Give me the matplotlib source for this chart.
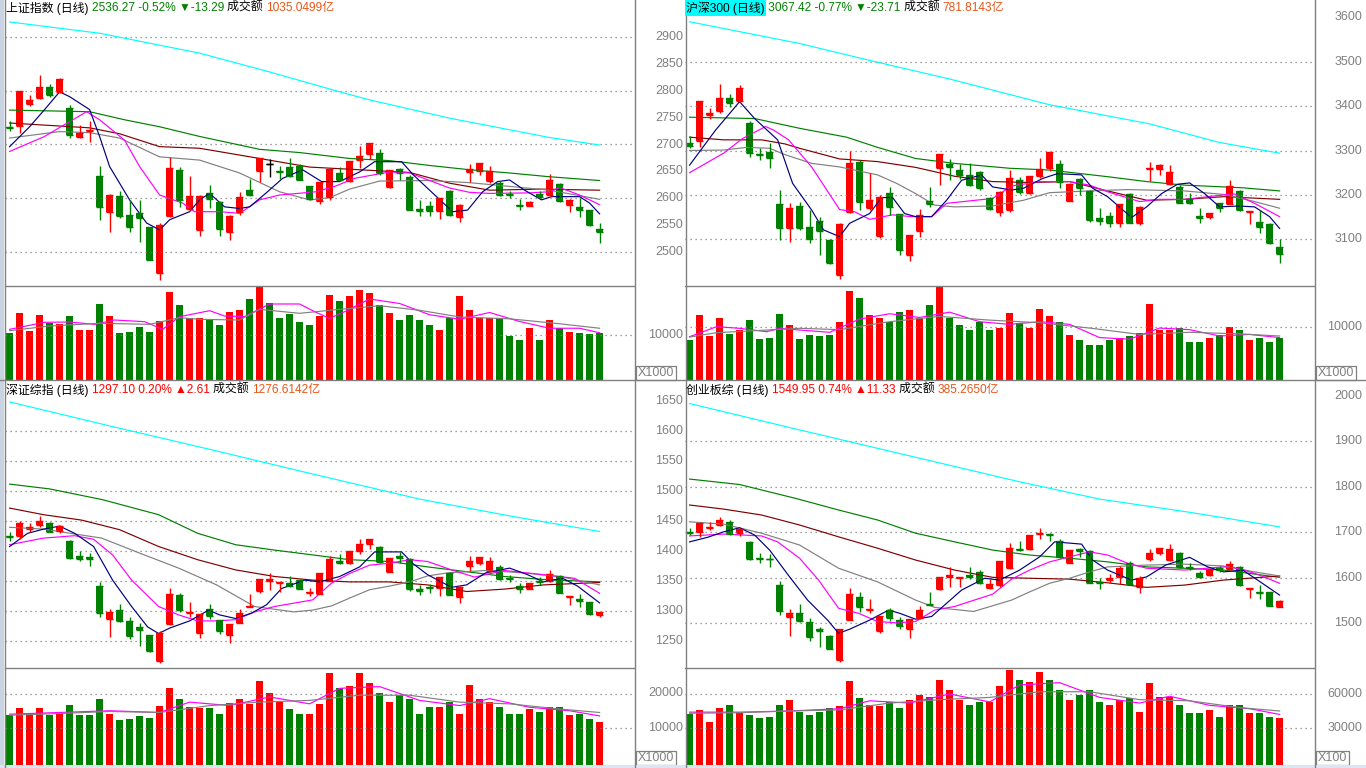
import matplotlib
matplotlib.use('Agg')
import matplotlib.pyplot as plt
from matplotlib.lines import Line2D
from matplotlib.patches import Rectangle

W, H = 1366, 768
FAM = ['Liberation Sans', 'Noto Sans CJK SC', 'DejaVu Sans']
RED, GRN, ORG, GRAY = '#FF0000', '#008000', '#E8561A', '#808080'

# ---------------- 上证指数 ----------------
sh_open = [2732, 2734.2, 2775.8, 2785.7, 2806.2, 2796.9, 2768.3, 2713.1, 2724.2, 2642.3,
           2573.9, 2605.0, 2568.4, 2573.3, 2546.0, 2460.3, 2566.5, 2652.8, 2580.8, 2541.7,
           2610.0, 2593.8, 2537.9, 2573.9, 2616.2, 2650.3, 2664.0, 2650.0, 2658.4, 2660.9,
           2622.4, 2594.4, 2602.5, 2647.2, 2631.7, 2670.8, 2681.4, 2684.5, 2620.5, 2654.7,
           2639.8, 2580.8, 2586.4, 2575.8, 2614.3, 2564.6, 2648.5, 2651.6, 2631.7, 2628.6,
           2608.1, 2588.2, 2586.4, 2608.7, 2606.9, 2626.7, 2587.0, 2583.3, 2578.9, 2543.5]
sh_close = [2731, 2799.4, 2782.6, 2807.5, 2791.9, 2821.1, 2717.4, 2720.5, 2726.7, 2583.3,
            2606.9, 2567.7, 2546.0, 2562.8, 2485.8, 2551.0, 2655.9, 2596.9, 2603.8, 2603.8,
            2598.8, 2542.9, 2567.7, 2602.5, 2606.9, 2675.2, 2664.0, 2649.0, 2641.0, 2634.8,
            2598.8, 2629.8, 2654.7, 2633.6, 2669.0, 2679.5, 2703.1, 2647.2, 2652.2, 2647.2,
            2578.9, 2575.8, 2575.8, 2600.6, 2568.4, 2588.2, 2654.7, 2665.9, 2650.3, 2606.9,
            2605.6, 2585.1, 2593.2, 2601.9, 2634.8, 2594.4, 2597.5, 2577.7, 2549.6, 2536.3]
sh_high = [2743, 2799.5, 2791.3, 2829.2, 2811.8, 2823.6, 2773.3, 2735.4, 2743.5, 2660.9,
           2607.5, 2613.1, 2597.5, 2597.5, 2546.5, 2554.1, 2676.4, 2658.4, 2641.0, 2606.9,
           2625.5, 2594.0, 2568.0, 2611.8, 2636.7, 2675.5, 2673.3, 2659.7, 2675.2, 2662.8,
           2623.6, 2630.0, 2655.0, 2658.4, 2669.0, 2696.9, 2703.3, 2692.0, 2652.5, 2656.5,
           2642.9, 2596.3, 2594.4, 2601.0, 2616.2, 2590.1, 2664.6, 2666.0, 2659.7, 2631.7,
           2613.1, 2598.8, 2594.4, 2613.1, 2646.0, 2628.6, 2598.8, 2600.6, 2579.0, 2554.1]
sh_low = [2725, 2721.7, 2771.4, 2783.9, 2788.8, 2796.3, 2711.8, 2711.8, 2704.4, 2560.3,
          2536.7, 2563.4, 2536.7, 2518.1, 2485.0, 2448.5, 2566.0, 2583.9, 2577.7, 2530.5,
          2582.0, 2529.2, 2521.8, 2568.4, 2603.8, 2629.8, 2639.8, 2636.0, 2639.2, 2633.6,
          2597.5, 2590.1, 2597.5, 2631.7, 2629.8, 2656.5, 2673.3, 2644.1, 2619.3, 2634.8,
          2577.7, 2566.5, 2566.5, 2562.2, 2567.7, 2555.3, 2629.8, 2644.1, 2628.6, 2603.8,
          2600.6, 2577.7, 2585.1, 2600.6, 2605.0, 2592.6, 2573.9, 2564.6, 2547.8, 2516.8]
sh_vol = [10510, 14960, 10960, 14520, 12590, 12520, 14300, 11110, 11110, 16960,
          14300, 10510, 10670, 11780, 10740, 13110, 19630, 16740, 13850, 13780,
          13260, 12220, 15110, 15560, 18000, 20740, 17040, 13780, 14740, 12890,
          12300, 14300, 18890, 17630, 18670, 20000, 19330, 16670, 14890, 13330,
          14440, 13330, 12220, 11110, 13780, 18670, 15560, 13780, 13780, 13780,
          9780, 8890, 11560, 8890, 13330, 11560, 10670, 10440, 10220, 10440]
sh_ma5 = [(0, 2696), (2, 2733), (3.5, 2765), (5, 2798), (6, 2789), (8, 2765), (9, 2715), (10, 2659),
          (12, 2597), (13.7, 2554), (15, 2541), (16, 2560), (18, 2575), (19, 2597), (20, 2609),
          (21.5, 2584), (23, 2581), (24, 2584), (25.6, 2609), (27.3, 2637), (29.3, 2653), (31.2, 2631),
          (33, 2631), (35, 2649), (36.5, 2668), (39.2, 2668), (40.4, 2643), (42, 2615), (44.3, 2575),
          (45.8, 2578), (47.3, 2612), (48.8, 2631), (50, 2634), (51.5, 2615), (53.2, 2597),
          (54.2, 2603), (57, 2603), (58, 2591), (59, 2571)]
sh_ma10 = [(0, 2687), (3.5, 2715), (5.4, 2736), (7.7, 2761), (9, 2746), (11.5, 2708), (13, 2659),
           (15, 2606), (17.3, 2591), (18.5, 2575), (21, 2575), (23, 2572), (25, 2597), (27, 2606),
           (30.6, 2612), (32.5, 2622), (34.5, 2637), (38, 2649), (40, 2647), (42, 2633), (44, 2619),
           (46, 2611), (48, 2609), (52, 2610), (54, 2612), (55, 2620), (57, 2606), (59, 2588)]
sh_ma20 = [(0, 2712), (5, 2724), (8, 2722), (11, 2712), (15, 2677), (19, 2671), (23, 2647), (27, 2612),
           (30, 2597), (32, 2601), (34, 2617), (37, 2632), (42, 2633), (46, 2629), (50, 2622),
           (54, 2615), (59, 2598)]
sh_ma30 = [(0, 2740), (8, 2731), (11, 2720), (15, 2696), (19, 2693), (25, 2674), (30, 2658), (37, 2651),
           (40, 2648), (44, 2628), (48, 2615), (53, 2617), (59, 2615)]
sh_ma60 = [(0, 2764), (8, 2761), (11.5, 2746), (15, 2733), (19, 2715), (25, 2691), (29, 2685), (34, 2674),
           (38, 2670), (42, 2661), (46, 2653), (50, 2647), (54, 2640), (59, 2633)]
sh_ma250 = [(0, 2928), (9, 2907), (19, 2870), (26, 2835), (33, 2798), (36, 2783), (44, 2749),
            (54, 2713), (59, 2699)]
sh_vma5 = [(0, 11260), (3.5, 12820), (6, 12890), (8.5, 12370), (10.5, 13330), (13.5, 12960),
           (15.3, 11260), (17, 14070), (20, 15400), (21.5, 14220), (23.5, 14070), (26, 16890),
           (29, 16890), (30.5, 15180), (32, 13700), (33.5, 15180), (36, 18000), (39, 17000),
           (42, 14500), (45, 13500), (48, 15000), (51, 13000), (54, 11500), (57, 11500), (59, 10500)]
sh_vma10 = [(0, 10960), (4, 12000), (9, 12600), (14, 12370), (17, 13850), (19, 13480), (23, 13330),
            (25, 15700), (29, 14820), (33, 15700), (37, 16500), (41, 15500), (45, 14000),
            (50, 13600), (55, 12500), (59, 11500)]
sh_title = [('上证指数 (日线) ', 'black', None), ('2536.27 -0.52% ', GRN, None),
            ('▼-13.29 ', GRN, None), ('成交额 ', 'black', None), ('1035.0499亿', ORG, None)]
sh_ticks = [2500, 2550, 2600, 2650, 2700, 2750, 2800, 2850, 2900]
sh_grid = [2500, 2600, 2700, 2800, 2900]

# ---------------- 沪深300 ----------------
hs_open = [3317.5, 3322, 3379.1, 3388.9, 3418.9, 3412.1, 3362.6, 3291.2, 3295.7, 3179.3,
           3124.5, 3174.8, 3128.3, 3141, 3098.2, 3019.4, 3160.5, 3274.7, 3171.1, 3108,
           3204.9, 3156.8, 3064.4, 3117.7, 3186.1, 3259.7, 3269.4, 3256, 3244.7, 3252.2,
           3192.1, 3162.1, 3165.8, 3233.4, 3203.4, 3243.2, 3261.2, 3268.7, 3186.8, 3234.9,
           3208.6, 3148.5, 3153, 3137.3, 3201.9, 3137.3, 3258.9, 3257.4, 3224.4, 3218.4,
           3190.6, 3153, 3149.3, 3180.8, 3179.3, 3208.6, 3160.5, 3138, 3134.3, 3081.7]
hs_close = [3310, 3411.4, 3383.6, 3418.9, 3406.1, 3439.9, 3293.5, 3289.7, 3283.7, 3124.5,
            3169.6, 3126, 3100.5, 3119.2, 3045.6, 3134.3, 3272.4, 3184.6, 3188.3, 3195.8,
            3173.3, 3075.7, 3109.5, 3154.5, 3178.6, 3292, 3263.4, 3244.7, 3222.2, 3214.6,
            3168, 3205.6, 3238.7, 3207.1, 3242.4, 3258.2, 3297.2, 3229.7, 3224.4, 3216.1,
            3143.3, 3141.8, 3137.3, 3179.3, 3137.3, 3173.3, 3261.2, 3267.2, 3250.7, 3182.3,
            3182.3, 3147, 3159.8, 3169.6, 3219.9, 3165.8, 3163.6, 3128.3, 3091.1, 3067.4]
hs_high = [3332.5, 3411.5, 3396.4, 3449.7, 3426.4, 3447.4, 3366.3, 3304.7, 3317.5, 3210.9,
           3182.3, 3184.6, 3165.8, 3150.8, 3099.7, 3135.8, 3298.7, 3278.5, 3248.4, 3199.6,
           3218.4, 3157, 3110, 3167.3, 3218.4, 3292.2, 3280, 3269.4, 3271, 3253.7,
           3194.3, 3208.6, 3255.9, 3240.9, 3243, 3282.2, 3297.5, 3278.5, 3227.4, 3237.2,
           3210.9, 3169.6, 3162.1, 3179.5, 3204.9, 3175.6, 3274.7, 3269.4, 3267.2, 3222,
           3204.9, 3169.6, 3160, 3182.3, 3233.4, 3210.9, 3164, 3165.8, 3135.8, 3099.7]
hs_low = [3304.7, 3307, 3370, 3385, 3398.6, 3410, 3286, 3278.5, 3259.7, 3098.2,
          3094.5, 3120.7, 3090.7, 3064.4, 3044.1, 3009.6, 3158.3, 3165.8, 3165.8, 3102,
          3154.5, 3064.4, 3051.6, 3105.7, 3173.3, 3222, 3233.4, 3234.9, 3220, 3210.9,
          3165.8, 3152.3, 3162.1, 3201.1, 3201.9, 3237.2, 3253.7, 3214.6, 3186.5, 3199.6,
          3139.5, 3132, 3126.7, 3126.7, 3135.8, 3132, 3231.9, 3244.7, 3222, 3180.8,
          3178.6, 3135.8, 3144.8, 3162.1, 3179, 3164.3, 3134.3, 3114.7, 3088.5, 3045.6]
hs_vol = [7550, 12260, 8360, 11640, 8680, 9430, 11320, 7740, 7870, 12450,
          10380, 7740, 8490, 8300, 8490, 10940, 16790, 15470, 12260, 11700,
          10940, 12830, 13210, 11700, 14150, 17550, 11700, 10380, 9430, 10940,
          9430, 9810, 12640, 10750, 9810, 13400, 12080, 10940, 8490, 7550,
          6600, 6600, 7550, 7930, 8300, 8870, 14340, 9430, 9430, 9810,
          7170, 7170, 7930, 8490, 10000, 9430, 7550, 7930, 7170, 7930]
hs_ma5 = [(0, 3267), (2.6, 3346), (5, 3410), (6.5, 3372), (8.8, 3324), (10.3, 3226), (12.2, 3166),
          (13.4, 3121), (15, 3106), (16, 3136), (18, 3158), (19.2, 3194), (20.3, 3194), (21.5, 3158),
          (22.6, 3151), (24.2, 3151), (25.7, 3188), (27.2, 3233), (29.2, 3245), (30.3, 3218),
          (32.2, 3211), (33.4, 3215), (35.3, 3237), (36.8, 3248), (39.2, 3245), (40.3, 3215),
          (41.8, 3196), (44.2, 3149), (45.7, 3173), (47.2, 3203), (48.8, 3224), (50, 3227),
          (51.5, 3203), (53, 3173), (54.9, 3175), (56.5, 3173), (58, 3151), (59, 3124.5)]
hs_ma10 = [(0, 3250), (3.4, 3294), (5.3, 3327), (7.6, 3354), (8.4, 3346), (9.9, 3324), (12.2, 3263),
           (15, 3167), (16.5, 3162), (18, 3145), (20.3, 3155), (22.2, 3151), (24.2, 3151), (25.7, 3181),
           (30.3, 3192), (32.2, 3220), (35, 3230), (38, 3230), (40, 3222), (41.8, 3207), (45, 3185),
           (47, 3190), (49.5, 3190), (53.4, 3200), (54.5, 3202), (56.5, 3181), (59, 3151)]
hs_ma20 = [(0, 3300), (3.4, 3301), (5.7, 3307), (8, 3305), (9.5, 3291), (12.2, 3271), (15, 3263),
           (18.8, 3245), (20.7, 3226), (22.6, 3203), (24.5, 3177), (26.5, 3173), (30.3, 3175),
           (33.4, 3188), (36, 3205), (40, 3209), (43.8, 3212), (49.5, 3209), (53.4, 3201),
           (56.5, 3185), (59, 3170)]
hs_ma30 = [(0, 3330), (3.4, 3324), (7.2, 3324), (9.5, 3315), (11, 3305), (15, 3281), (18.8, 3275),
           (22.6, 3262), (26.5, 3242), (30.3, 3230), (34, 3228), (38, 3230), (41.8, 3209),
           (45.7, 3188), (49.5, 3190), (53.4, 3196), (59, 3190)]
hs_ma60 = [(0, 3375), (6.5, 3372), (11, 3350), (15.7, 3330), (18.8, 3307), (22.6, 3282), (26.5, 3271),
           (32, 3260), (36, 3256), (41.8, 3241), (45.7, 3230), (49.5, 3222), (55.3, 3216), (59, 3209)]
hs_ma250 = [(0, 3590), (11, 3541), (18, 3503), (26, 3461), (36, 3403), (46, 3360), (53, 3318),
            (59, 3294)]
hs_vma5 = [(0, 8170), (2.7, 10060), (5, 9750), (7.7, 9110), (9, 9750), (11, 9430), (14, 9000),
           (17, 11500), (20, 12500), (23, 11800), (26, 12800), (29, 11000), (32, 10500), (35, 11000),
           (38, 10500), (41, 8000), (44, 7700), (47, 9800), (50, 9500), (53, 8300), (56, 8600),
           (59, 8000)]
hs_vma10 = [(0, 8100), (2.7, 8930), (11, 9750), (15, 9500), (20, 11000), (25, 12000), (30, 11300),
            (35, 10800), (40, 9800), (45, 8600), (50, 9000), (55, 8700), (59, 8300)]
hs_title = [('沪深300 (日线)', 'black', '#00FFFF'), (' 3067.42 -0.77% ', GRN, None),
            ('▼-23.71 ', GRN, None), ('成交额 ', 'black', None), ('781.8143亿', ORG, None)]
hs_ticks = [3100, 3200, 3300, 3400, 3500, 3600]
hs_grid = [3100, 3200, 3300, 3400, 3500]

# ---------------- 深证综指 ----------------
sz_open = [1424.4, 1425, 1435.6, 1442.2, 1446.7, 1433.3, 1416.1, 1391.1, 1388.9, 1341.1,
           1286.7, 1301.1, 1282.8, 1273.3, 1259.4, 1216.7, 1277.2, 1326.1, 1295.6, 1262.2,
           1302.8, 1284.4, 1259.4, 1280, 1305.6, 1333.3, 1350, 1346.7, 1345.6, 1351.1,
           1328.9, 1327.8, 1350, 1382.8, 1378.9, 1400, 1411.1, 1406.7, 1365, 1391.1,
           1385.6, 1335.6, 1340, 1337.2, 1362.2, 1323.3, 1374.4, 1378.9, 1366.7, 1372.2,
           1354.4, 1341.1, 1336.1, 1350, 1349.4, 1357.8, 1323.3, 1318.9, 1315, 1292.8]
sz_close = [1422.2, 1446.7, 1440, 1450, 1431.7, 1441.1, 1388.3, 1386.7, 1385.6, 1295.6,
            1297.2, 1283.3, 1258.3, 1267.8, 1232.8, 1263.3, 1327.8, 1301.1, 1298.3, 1293.9,
            1291.7, 1266.7, 1277.8, 1295.6, 1307.8, 1352.8, 1352.8, 1348.3, 1341.7, 1336.1,
            1330.6, 1363.3, 1386.1, 1380, 1400, 1411.1, 1419.4, 1381.7, 1387.2, 1388.3,
            1336.1, 1333.3, 1337.8, 1355.6, 1326.1, 1338.9, 1382.8, 1388.9, 1382.8, 1352.8,
            1352.2, 1336.1, 1345.6, 1347.8, 1361.1, 1330, 1325, 1316.7, 1294.5, 1297.1]
sz_high = [1431.7, 1450, 1445.6, 1458.3, 1448.3, 1442.8, 1417.8, 1400, 1395.6, 1348.3,
           1302.8, 1310.6, 1288.9, 1280, 1259.5, 1266.1, 1338.3, 1330, 1315, 1294,
           1311.1, 1284.5, 1278, 1302.2, 1327.8, 1353, 1363.3, 1348.5, 1357.8, 1352.2,
           1337.2, 1363.5, 1391.1, 1393.9, 1400, 1418.9, 1419.5, 1407.8, 1388.3, 1398.3,
           1387.2, 1342.8, 1344.4, 1356.7, 1365, 1341.1, 1391.1, 1389, 1390, 1376.1,
           1359.4, 1345.6, 1345.6, 1355.6, 1367.8, 1359.4, 1325, 1327.2, 1315, 1297.8]
sz_low = [1416.7, 1418.9, 1431.7, 1440, 1430.6, 1428.9, 1386.1, 1383.3, 1374.4, 1288.9,
          1255.6, 1280.6, 1252.2, 1241.7, 1231.7, 1213.3, 1277, 1298.3, 1288.9, 1255,
          1285.6, 1260.6, 1246.7, 1278.9, 1305.5, 1328.9, 1334.4, 1331.7, 1338.9, 1335.6,
          1324.4, 1327.2, 1349.4, 1377.2, 1377.8, 1394.4, 1402.8, 1380, 1363.9, 1378.9,
          1333.3, 1326.1, 1330, 1324.4, 1326, 1313.3, 1366.1, 1376.1, 1363.9, 1351.1,
          1348.3, 1330, 1335.6, 1342.8, 1348.3, 1328.9, 1309.4, 1305.6, 1292.8, 1288.9]
sz_vol = [13710, 15710, 13710, 15710, 13710, 14000, 16570, 13710, 13710, 18280,
          14000, 12290, 12570, 13430, 12860, 16280, 21710, 18280, 16000, 15710,
          15710, 14000, 17140, 18280, 16860, 23710, 20280, 17430, 15430, 14000,
          14000, 16860, 26000, 21710, 22290, 26000, 23140, 20280, 17430, 19710,
          18280, 14000, 16000, 16000, 17430, 14000, 22570, 18280, 17430, 16000,
          14000, 14000, 15430, 14570, 16000, 16000, 13710, 14000, 12570, 11710]
sz_ma5 = [(0, 1407), (1.8, 1429), (3.4, 1436), (5, 1441), (6.5, 1429), (8.4, 1407), (10.3, 1351),
          (12.2, 1307), (13.8, 1273), (14.9, 1262), (16, 1271), (18, 1283), (19.9, 1301), (21, 1293),
          (22.6, 1287), (24.2, 1296), (25.7, 1310), (27.2, 1337), (29.5, 1351), (31, 1348), (33, 1357),
          (35, 1373), (36.5, 1398), (39.2, 1398), (40.3, 1379), (41.8, 1360), (44.2, 1339),
          (45.7, 1343), (47.6, 1363), (50, 1371), (51.8, 1360), (53.4, 1348), (55.3, 1354),
          (56.8, 1341), (59, 1313)]
sz_ma10 = [(0, 1410), (3.4, 1421), (6.5, 1425), (8.4, 1419), (10.3, 1393), (12.2, 1351), (14.9, 1307),
           (16.9, 1293), (18.8, 1283), (20.7, 1283), (22.6, 1285), (24.5, 1298), (26.5, 1307),
           (30.3, 1318), (32.2, 1346), (34, 1362), (36, 1376), (38, 1379), (40, 1385), (41.8, 1382),
           (44.2, 1368), (46.5, 1356), (49.5, 1367), (53.4, 1360), (56.5, 1354), (59, 1329)]
sz_ma20 = [(0, 1439), (3.4, 1436), (5.3, 1431), (9.2, 1421), (13, 1396), (16.9, 1371), (20.7, 1343),
           (24.5, 1307), (28.4, 1298), (30.3, 1301), (32.2, 1308), (34, 1321), (36, 1335), (38, 1341),
           (40, 1348), (41.8, 1358), (43.8, 1363), (47.6, 1367), (51.5, 1363), (55.3, 1356), (59, 1343)]
sz_ma30 = [(0, 1471), (3.4, 1460), (7.2, 1451), (11, 1435), (14.9, 1407), (18.8, 1385), (22.6, 1368),
           (26.5, 1357), (30.3, 1351), (34, 1348), (38, 1348), (41.8, 1343), (45.7, 1332),
           (49.5, 1336), (53.4, 1343), (59, 1347)]
sz_ma60 = [(0, 1511), (4, 1503), (9.3, 1485), (14.9, 1460), (18.8, 1429), (22.6, 1410), (26.5, 1401),
           (30.3, 1393), (34, 1385), (38, 1382), (41.8, 1373), (45.7, 1365), (49.5, 1357),
           (53.4, 1352), (59, 1348)]
sz_ma250 = [(0, 1648), (10, 1608), (20, 1569), (30, 1529), (41, 1486), (50, 1458), (59, 1432)]
sz_vma5 = [(0, 14000), (5, 14500), (10, 15000), (15, 14500), (18, 17500), (22, 16500), (26, 19000),
           (30, 17000), (33, 21500), (37, 22000), (41, 18000), (45, 16500), (48, 18500), (52, 16000),
           (56, 15000), (59, 13500)]
sz_vma10 = [(0, 13700), (5, 14200), (10, 14800), (15, 14500), (20, 16500), (25, 17500), (30, 18000),
            (35, 19500), (40, 19500), (45, 17500), (50, 17000), (55, 15500), (59, 14500)]
sz_title = [('深证综指 (日线) ', 'black', None), ('1297.10 0.20% ', RED, None),
            ('▲2.61 ', RED, None), ('成交额 ', 'black', None), ('1276.6142亿', ORG, None)]
sz_ticks = [1250, 1300, 1350, 1400, 1450, 1500, 1550, 1600, 1650]
sz_grid = [1250, 1300, 1350, 1400, 1450, 1500, 1550, 1600]

# ---------------- 创业板综 ----------------
cy_open = [1701.1, 1700.4, 1708.4, 1715.8, 1722.3, 1698.9, 1678.4, 1644, 1641.8, 1583.2,
           1514.3, 1523.1, 1503.3, 1486.4, 1471.8, 1419, 1507, 1558.2, 1528.9, 1482.8,
           1528.9, 1506.2, 1487.9, 1510.6, 1542.9, 1575.8, 1602.2, 1600, 1605.1, 1612.5,
           1578, 1583.2, 1622, 1662.3, 1662.3, 1696, 1696.7, 1680.6, 1633, 1663.7,
           1658.6, 1590.5, 1594.1, 1601.5, 1633, 1580.2, 1641.8, 1653.5, 1638.1, 1653.5,
           1623.4, 1609.5, 1605.1, 1622, 1619.8, 1623.4, 1575.8, 1568.5, 1569.2, 1536]
cy_close = [1697.4, 1719.4, 1712.1, 1726, 1695.2, 1707.7, 1640.3, 1640.3, 1640.3, 1526.7,
            1523.1, 1504.8, 1469.6, 1482.8, 1444, 1487.9, 1563.4, 1536.3, 1531.9, 1515.8,
            1511.4, 1493.8, 1508.4, 1528.2, 1539.9, 1602.2, 1605.1, 1602.2, 1602.2, 1589,
            1585.3, 1635.9, 1665.9, 1660.8, 1693, 1698.9, 1693.8, 1646.2, 1660.8, 1658.6,
            1589, 1587.5, 1600, 1622, 1585.3, 1598.5, 1654.9, 1665.9, 1663.7, 1623.4,
            1620.5, 1602.2, 1616.8, 1616.1, 1629.3, 1583.2, 1578, 1565.6, 1538.6, 1550]
cy_high = [1709.9, 1719.5, 1722.3, 1734.1, 1726.7, 1709.9, 1680.6, 1654.9, 1651.3, 1592.7,
           1531.9, 1541.4, 1512.1, 1492.3, 1473.3, 1488, 1578, 1568.5, 1552.4, 1516,
           1534.1, 1514.3, 1508.5, 1537.7, 1569.2, 1602.2, 1624.2, 1602.2, 1624.2, 1616.1,
           1596.3, 1636, 1676.9, 1680.6, 1693, 1708.4, 1698.9, 1684.2, 1660.8, 1665.9,
           1660.8, 1600, 1607.3, 1625.6, 1636.6, 1603.7, 1662.3, 1666, 1673.3, 1656.4,
           1631.5, 1614.7, 1618.3, 1625.6, 1636.6, 1625.6, 1578, 1583.2, 1569.2, 1552]
cy_low = [1693, 1690.1, 1704.8, 1713.6, 1695, 1691.6, 1638.1, 1633, 1624.2, 1517.2,
          1471.8, 1502.6, 1460.8, 1447.6, 1442.5, 1414.7, 1507, 1524.5, 1521.6, 1477.7,
          1504.8, 1486.4, 1468.1, 1508.4, 1539.9, 1572.9, 1580.2, 1580.2, 1597.8, 1585.3,
          1575.8, 1580.2, 1619.8, 1658.6, 1662, 1684.2, 1680.6, 1644, 1631.5, 1646.2,
          1587.5, 1574.4, 1587.5, 1585.3, 1585, 1567, 1636.6, 1649.1, 1636.6, 1622,
          1616.1, 1600, 1603.7, 1613.2, 1616.1, 1581.7, 1556, 1552.4, 1537.7, 1535.5]
cy_vol = [42340, 45860, 35280, 47630, 50270, 44100, 41450, 38810, 39690, 50270,
          54680, 44100, 41450, 44100, 47630, 49390, 71440, 56450, 50270, 49390,
          52920, 47630, 54680, 59090, 57330, 72320, 63500, 54680, 50270, 52920,
          52920, 67030, 81140, 72320, 70560, 79380, 72320, 63500, 54680, 59090,
          63500, 52920, 50270, 54680, 56450, 44100, 69680, 57330, 57330, 50270,
          43220, 43220, 45860, 39690, 50270, 50270, 43220, 43220, 39690, 38810]
cy_ma5 = [(0, 1679), (1.8, 1689), (3.4, 1701), (5, 1710), (6.5, 1694), (8, 1661), (10, 1602),
          (11.8, 1551), (13.8, 1507), (14.9, 1478), (16, 1487), (18, 1507), (19.9, 1529), (21, 1522),
          (22.6, 1509), (24.2, 1515), (25.7, 1544), (27.2, 1573), (29.5, 1599), (31, 1595), (33, 1617),
          (35, 1646), (36.5, 1679), (39.2, 1674), (40.3, 1639), (41.8, 1617), (44.2, 1595),
          (45.7, 1602), (47.6, 1628), (50, 1645), (51.8, 1624), (53.4, 1613), (55.3, 1617),
          (56.8, 1595), (59, 1562)]
cy_ma10 = [(0, 1692), (3.4, 1696), (7.2, 1692), (8.8, 1679), (11, 1643), (12.9, 1595), (14.9, 1533),
           (16.9, 1522), (18.8, 1504), (20.7, 1501), (22.6, 1504), (24.5, 1529), (26.5, 1537),
           (30.3, 1564), (32.2, 1597), (34, 1617), (36, 1635), (38, 1646), (40, 1657), (41.8, 1650),
           (43.8, 1632), (45.7, 1621), (47.6, 1619), (49.5, 1617), (53.4, 1624), (54.5, 1622),
           (56.5, 1610), (59, 1588)]
cy_ma20 = [(0, 1723), (3.4, 1718), (7.2, 1698), (11, 1672), (14.9, 1621), (18.8, 1591), (22.6, 1551),
           (24.5, 1535), (28.4, 1526), (32.2, 1551), (34, 1569), (36, 1588), (38, 1599), (40, 1613),
           (41.8, 1624), (45.7, 1628), (49.5, 1630), (53.4, 1626), (56.5, 1613), (59, 1604)]
cy_ma30 = [(0, 1760), (3.4, 1751), (7.2, 1738), (11, 1716), (14.9, 1690), (18.8, 1665), (22.6, 1639),
           (26.5, 1617), (30.3, 1601), (34, 1599), (38, 1597), (41.8, 1589), (45.7, 1579),
           (49.5, 1584), (53.4, 1595), (59, 1604)]
cy_ma60 = [(0, 1817), (5, 1805), (10.7, 1774), (14.9, 1749), (18.8, 1727), (22.6, 1698), (26.5, 1679),
           (30.3, 1661), (34, 1650), (38, 1643), (41.8, 1635), (45.7, 1624), (49.5, 1621),
           (53.4, 1617), (59, 1601)]
cy_ma250 = [(0, 1983), (11, 1925), (22, 1868), (33, 1811), (41, 1773), (50, 1744), (59, 1712)]
cy_vma5 = [(0, 44000), (5, 44000), (10, 45000), (15, 47000), (18, 54000), (22, 52000), (26, 60000),
           (30, 53000), (33, 68000), (37, 70000), (41, 57000), (45, 52000), (48, 58000), (52, 50000),
           (56, 47000), (59, 42000)]
cy_vma10 = [(0, 43000), (5, 43500), (10, 45000), (15, 46000), (20, 52000), (25, 55000), (30, 57000),
            (35, 62000), (40, 62000), (45, 55000), (50, 54000), (55, 48000), (59, 45000)]
cy_title = [('创业板综 (日线) ', 'black', None), ('1549.95 0.74% ', RED, None),
            ('▲11.33 ', RED, None), ('成交额 ', 'black', None), ('385.2650亿', ORG, None)]
cy_ticks = [1500, 1600, 1700, 1800, 1900, 2000]
cy_grid = [1500, 1600, 1700, 1800, 1900]

# ---------------- figure ----------------
fig = plt.figure(figsize=(W / 100, H / 100), dpi=100)
fig.patch.set_facecolor('white')
renderer = fig.canvas.get_renderer()


def px_axes(x0, y0, x1, y1):
    ax = fig.add_axes([x0 / W, 1 - y1 / H, (x1 - x0) / W, (y1 - y0) / H])
    ax.set_facecolor('none')
    for s in ax.spines.values():
        s.set_visible(False)
    ax.set_xticks([])
    ax.set_yticks([])
    return ax


def fig_line(x0, y0, x1, y1, color=GRAY, lw=1.0):
    fig.add_artist(Line2D([x0 / W, x1 / W], [1 - y0 / H, 1 - y1 / H], color=color, lw=lw,
                          transform=fig.transFigure))


def seq_text(x, y, parts, size=8.6):
    for s, c, bg in parts:
        t = fig.text(x / W, 1 - y / H, s, color=c, fontsize=size, va='center', ha='left', family=FAM)
        if bg:
            t.set_bbox(dict(facecolor=bg, edgecolor='none', pad=0.8))
        x += t.get_window_extent(renderer=renderer).width


def lin(v1, p1, v2, p2):
    return lambda p: v1 + (p - p1) * (v2 - v1) / (p2 - p1)


XLIM = ((5 - 9.6) / 10, (634 - 9.6) / 10)
DOT = (0, (1, 3))


def draw_panel(x0, x1, py0, py1, vy1, lab_x, o, h, l, c, vol, mas, vmas, pref, vref,
               ticks, grid, vticks, unit, title, ty):
    # price axes
    ax = px_axes(x0, py0, x1, py1)
    p2v = lin(*pref)
    ax.set_xlim(*XLIM)
    ax.set_ylim(p2v(py1), p2v(py0))
    for g in grid:
        ax.axhline(g, color=GRAY, lw=0.9, ls=DOT)
    for (pts, col) in mas:
        ax.plot([p[0] for p in pts], [p[1] for p in pts], color=col, lw=0.85)
    n = len(o)
    for i in range(n):
        if c[i] > o[i]:
            col = RED
        elif c[i] < o[i]:
            col = GRN
        else:
            col = 'black'
        ax.vlines(i, l[i], h[i], color=col, lw=1.0)
        lo, hi = min(o[i], c[i]), max(o[i], c[i])
        ax.bar(i, hi - lo, bottom=lo, width=0.72, color=col, lw=0)
        ax.hlines([o[i], c[i]], i - 0.36, i + 0.36, color=col, lw=1.0)
    # tick labels in column
    v2p = lin(pref[1], pref[0], pref[3], pref[2])
    for t in ticks:
        fig.text(lab_x / W, 1 - v2p(t) / H, str(t), color=GRAY, fontsize=9, ha='right',
                 va='center', family=FAM)
    # volume
    vax = px_axes(x0, py1 + 1, x1, vy1)
    vp2v = lin(*vref)
    vlo, vhi = vp2v(vy1), vp2v(py1 + 1)
    vax.set_xlim(*XLIM)
    vax.set_ylim(vlo, vhi)
    for g in vticks:
        vax.axhline(g, color=GRAY, lw=0.9, ls=DOT)
    for i in range(n):
        col = RED if c[i] > o[i] else GRN
        vax.bar(i, vol[i] - vlo, bottom=vlo, width=0.75, color=col, lw=0)
    for (pts, col) in vmas:
        vax.plot([p[0] for p in pts], [p[1] for p in pts], color=col, lw=0.85)
    vv2p = lin(vref[1], vref[0], vref[3], vref[2])
    for t in vticks:
        fig.text(lab_x / W, 1 - vv2p(t) / H, str(t), color=GRAY, fontsize=9, ha='right',
                 va='center', family=FAM)
    # unit box
    bx = x1 + 2
    bw = 40 if unit == 'X1000' else 33
    fig.add_artist(Rectangle((bx / W, 1 - vy1 / H), bw / W, 14 / H, transform=fig.transFigure,
                             facecolor='white', edgecolor=GRAY, lw=0.9))
    fig.text((bx + 2) / W, 1 - (vy1 - 7) / H, unit, color=GRAY, fontsize=9, ha='left', va='center',
             family=FAM)
    seq_text(x0 + 1, ty, title)


MA_COLS = ['#000080', '#FF00FF', GRAY, '#800000', '#008000', '#00FFFF']
VMA_COLS = ['#FF00FF', GRAY]

draw_panel(5, 634, 0, 285, 380, 683, sh_open, sh_high, sh_low, sh_close, sh_vol,
           list(zip([sh_ma250, sh_ma60, sh_ma30, sh_ma20, sh_ma10, sh_ma5], MA_COLS[::-1])),
           list(zip([sh_vma5, sh_vma10], VMA_COLS)),
           (2900, 37, 2500, 252), (0, 380, 10000, 335), sh_ticks, sh_grid, [10000], 'X1000',
           sh_title, 8)
draw_panel(685, 1314, 0, 285, 380, 1362, hs_open, hs_high, hs_low, hs_close, hs_vol,
           list(zip([hs_ma250, hs_ma60, hs_ma30, hs_ma20, hs_ma10, hs_ma5], MA_COLS[::-1])),
           list(zip([hs_vma5, hs_vma10], VMA_COLS)),
           (3500, 61.7, 3100, 239.3), (0, 380, 10000, 327), hs_ticks, hs_grid, [10000], 'X1000',
           hs_title, 8)
draw_panel(5, 634, 381, 667, 765, 683, sz_open, sz_high, sz_low, sz_close, sz_vol,
           list(zip([sz_ma250, sz_ma60, sz_ma30, sz_ma20, sz_ma10, sz_ma5], MA_COLS[::-1])),
           list(zip([sz_vma5, sz_vma10], VMA_COLS)),
           (1450, 520.7, 1250, 640.7), (20000, 693.5, 10000, 728), sz_ticks, sz_grid,
           [10000, 20000], 'X1000', sz_title, 390)
draw_panel(685, 1314, 381, 667, 765, 1362, cy_open, cy_high, cy_low, cy_close, cy_vol,
           list(zip([cy_ma250, cy_ma60, cy_ma30, cy_ma20, cy_ma10, cy_ma5], MA_COLS[::-1])),
           list(zip([cy_vma5, cy_vma10], VMA_COLS)),
           (1700, 532.3, 1500, 623.3), (60000, 694, 30000, 728), cy_ticks, cy_grid,
           [30000, 60000], 'X100', cy_title, 390)

# frame lines
fig.add_artist(Rectangle((0, 0), 4 / W, 1, transform=fig.transFigure, facecolor='#C8D4E4',
                         edgecolor='none'))
fig_line(4.5, 0, 4.5, 768)
for xx in (634.5, 685.5, 1314.5):
    fig_line(xx, 0, xx, 768)
for yy in (285.5, 667.5):
    fig_line(5, yy, 634, yy)
    fig_line(685, yy, 1314, yy)
fig_line(0, 380.5, 1366, 380.5)
fig.add_artist(Rectangle((0, 0), 1, 3 / H, transform=fig.transFigure, facecolor='#DCE6F2',
                         edgecolor='none'))

fig.savefig('out.png', dpi=100, facecolor='white')
